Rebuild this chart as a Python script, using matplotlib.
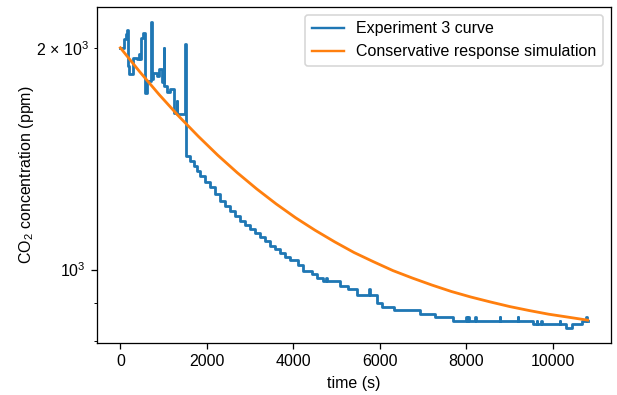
import matplotlib
matplotlib.use('Agg')
import matplotlib.pyplot as plt
from matplotlib.ticker import FuncFormatter

plt.rcParams['font.family'] = ['Liberation Sans', 'DejaVu Sans']
plt.rcParams['mathtext.fontset'] = 'custom'
plt.rcParams['mathtext.rm'] = 'Liberation Sans'
plt.rcParams['mathtext.it'] = 'Liberation Sans:italic'
plt.rcParams['mathtext.bf'] = 'Liberation Sans:bold'

# Experiment 3 (step breakpoints: time s, CO2 ppm)
exp_t = [0, 76, 120, 155, 178, 192, 293, 380, 420, 462, 485, 531, 561, 616, 700,
         709, 720, 760, 840, 900, 962, 1000, 1015, 1080, 1150, 1231, 1308, 1320,
         1500, 1520, 1600, 1692, 1770, 1846, 1960, 2077, 2190, 2308, 2420, 2539,
         2650, 2769, 2880, 3000, 3115, 3231, 3345, 3462, 3580, 3700, 3810, 3923,
         4100, 4230, 4430, 4550, 4690, 4750, 4765, 5080, 5250, 5470, 5750, 5765,
         5930, 6050, 6330, 6920, 7270, 7690, 7990, 8005, 8040, 8055, 8200,
         8215, 8770, 8785, 9180, 9195, 9540, 9620, 9635, 9720, 9735, 10150, 10165,
         10300, 10450, 10660, 10770, 10785, 10800]
exp_v = [2000, 2053, 2090, 2113, 1889, 1841, 1939, 1930, 1961, 1930, 2060, 2094, 1738, 1803, 1810,
         2166, 1814, 1850, 1830, 1870, 1800, 2000, 1775, 1740, 1760, 1633, 1693, 1627,
         2021, 1427, 1405, 1383, 1362, 1341, 1316, 1293, 1266, 1240, 1221, 1202,
         1183, 1165, 1151, 1137, 1121, 1106, 1092, 1078, 1066, 1052, 1040, 1029,
         1013, 997, 985, 975, 966, 975, 966, 950, 940, 925, 940, 925,
         900, 890, 882, 871, 862, 851, 862, 851, 862, 851, 862,
         851, 862, 851, 862, 851, 843, 851, 843, 851, 843, 851, 843,
         834, 843, 851, 862, 851, 851]

# Conservative response simulation
sim_t = [0, 450, 900, 1350, 1800, 2250, 2700, 3150, 3600, 4050, 4500, 4950,
         5400, 5850, 6300, 6750, 7200, 7650, 8100, 8550, 9000, 9450, 9900,
         10350, 10800]
sim_v = [2000, 1855, 1727, 1615, 1517, 1430, 1354, 1287, 1228, 1176, 1131, 1091,
         1055, 1025, 997, 974, 953, 934, 918, 904, 891, 880, 870,
         862, 854]

fig = plt.figure(figsize=(617/115, 395/115), dpi=115)
ax = fig.add_axes([97/617, 1-343/395, (611-97)/617, (343-7)/395])
ax.plot(exp_t, exp_v, drawstyle='steps-post', lw=1.75, label='Experiment 3 curve')
ax.plot(sim_t, sim_v, lw=1.75, label='Conservative response simulation')
ax.set_yscale('log')


def major_fmt(v, pos):
    if abs(v - 1000) < 1:
        return r'$\mathdefault{10^{3}}$'
    return ''


def minor_fmt(v, pos):
    if abs(v - 2000) < 1:
        return '2 \u00d7 ' + r'$\mathdefault{10^{3}}$'
    return ''


ax.yaxis.set_major_formatter(FuncFormatter(major_fmt))
ax.yaxis.set_minor_formatter(FuncFormatter(minor_fmt))
ax.set_xlabel('time (s)')
ax.set_ylabel('CO$_2$ concentration (ppm)')
ax.yaxis.set_label_coords(-0.119, 0.5)
leg = ax.legend(loc='upper right')
for h in leg.get_lines():
    h.set_linewidth(1.5)
fig.savefig('out.png', dpi=115)
